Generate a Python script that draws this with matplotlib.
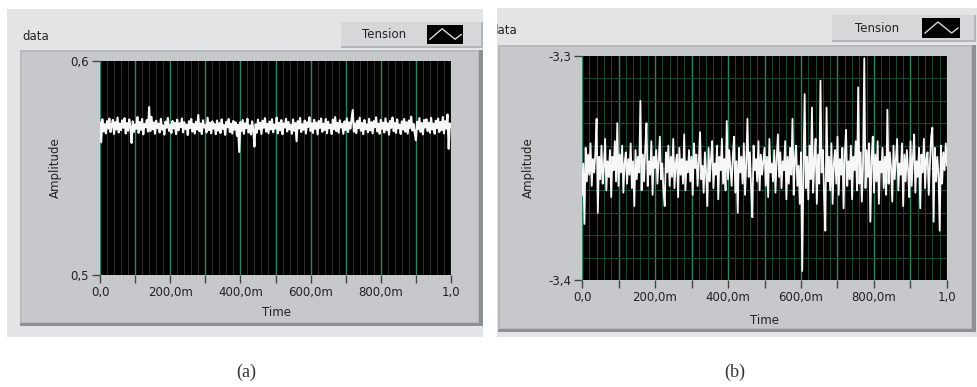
#%% bibliotecas
import numpy as np
import matplotlib.pyplot as plt
from matplotlib.patches import Rectangle
from matplotlib.lines import Line2D

#%% dados lidos dos dois graficos
tensao_a = [
    0.5712, 0.5620, 0.5728, 0.5671, 0.5705, 0.5662, 0.5719, 0.5684, 0.5731, 0.5668,
    0.5701, 0.5725, 0.5659, 0.5714, 0.5680, 0.5736, 0.5666, 0.5708, 0.5677, 0.5722,
    0.5688, 0.5733, 0.5661, 0.5710, 0.5674, 0.5727, 0.5692, 0.5617, 0.5718, 0.5669,
    0.5704, 0.5683, 0.5738, 0.5664, 0.5715, 0.5678, 0.5729, 0.5657, 0.5706, 0.5690,
    0.5724, 0.5670, 0.5785, 0.5672, 0.5739, 0.5681, 0.5713, 0.5660, 0.5721, 0.5686,
    0.5707, 0.5666, 0.5730, 0.5679, 0.5699, 0.5656, 0.5717, 0.5688, 0.5734, 0.5673,
    0.5702, 0.5663, 0.5720, 0.5685, 0.5711, 0.5658, 0.5726, 0.5676, 0.5709, 0.5691,
    0.5731, 0.5667, 0.5714, 0.5682, 0.5703, 0.5654, 0.5719, 0.5687, 0.5729, 0.5670,
    0.5706, 0.5661, 0.5716, 0.5680, 0.5748, 0.5672, 0.5708, 0.5659, 0.5723, 0.5689,
    0.5700, 0.5666, 0.5735, 0.5677, 0.5712, 0.5662, 0.5718, 0.5684, 0.5705, 0.5658,
    0.5722, 0.5675, 0.5710, 0.5664, 0.5727, 0.5683, 0.5701, 0.5655, 0.5716, 0.5690,
    0.5729, 0.5668, 0.5707, 0.5661, 0.5720, 0.5679, 0.5713, 0.5650, 0.5702, 0.5575,
    0.5715, 0.5673, 0.5724, 0.5660, 0.5709, 0.5686, 0.5730, 0.5666, 0.5699, 0.5657,
    0.5718, 0.5678, 0.5600, 0.5704, 0.5665, 0.5726, 0.5682, 0.5711, 0.5659, 0.5721,
    0.5688, 0.5733, 0.5670, 0.5706, 0.5663, 0.5717, 0.5680, 0.5728, 0.5667, 0.5703,
    0.5684, 0.5736, 0.5662, 0.5712, 0.5676, 0.5724, 0.5658, 0.5708, 0.5689, 0.5730,
    0.5671, 0.5715, 0.5681, 0.5701, 0.5660, 0.5727, 0.5674, 0.5710, 0.5625, 0.5719,
    0.5685, 0.5734, 0.5668, 0.5705, 0.5679, 0.5722, 0.5661, 0.5714, 0.5692, 0.5737,
    0.5673, 0.5709, 0.5664, 0.5725, 0.5683, 0.5712, 0.5657, 0.5720, 0.5687, 0.5731,
    0.5669, 0.5707, 0.5678, 0.5729, 0.5662, 0.5716, 0.5686, 0.5703, 0.5659, 0.5726,
    0.5681, 0.5738, 0.5672, 0.5711, 0.5665, 0.5723, 0.5689, 0.5706, 0.5660, 0.5718,
    0.5677, 0.5732, 0.5668, 0.5713, 0.5684, 0.5727, 0.5771, 0.5670, 0.5708, 0.5663,
    0.5721, 0.5686, 0.5735, 0.5674, 0.5710, 0.5658, 0.5724, 0.5681, 0.5704, 0.5667,
    0.5730, 0.5676, 0.5714, 0.5662, 0.5719, 0.5690, 0.5737, 0.5671, 0.5707, 0.5660,
    0.5725, 0.5683, 0.5712, 0.5666, 0.5732, 0.5678, 0.5709, 0.5656, 0.5720, 0.5688,
    0.5736, 0.5672, 0.5711, 0.5664, 0.5727, 0.5685, 0.5703, 0.5659, 0.5718, 0.5680,
    0.5729, 0.5670, 0.5714, 0.5661, 0.5722, 0.5687, 0.5740, 0.5675, 0.5706, 0.5663,
    0.5630, 0.5716, 0.5682, 0.5733, 0.5669, 0.5710, 0.5657, 0.5724, 0.5689, 0.5728,
    0.5673, 0.5712, 0.5665, 0.5735, 0.5680, 0.5707, 0.5660, 0.5721, 0.5686, 0.5731,
    0.5668, 0.5715, 0.5677, 0.5738, 0.5662, 0.5719, 0.5684, 0.5750, 0.5590, 0.5708,
    0.5695,
]
tensao_b = [
    -3.362, -3.348, -3.375, -3.341, -3.356, -3.344, -3.353, -3.339, -3.358, -3.346,
    -3.352, -3.343, -3.328, -3.370, -3.345, -3.355, -3.340, -3.357, -3.349, -3.337,
    -3.360, -3.347, -3.354, -3.342, -3.363, -3.345, -3.351, -3.338, -3.356, -3.330,
    -3.358, -3.344, -3.352, -3.340, -3.361, -3.348, -3.343, -3.357, -3.346, -3.353,
    -3.339, -3.359, -3.347, -3.367, -3.342, -3.355, -3.345, -3.352, -3.320, -3.360,
    -3.344, -3.356, -3.341, -3.330, -3.358, -3.347, -3.353, -3.338, -3.362, -3.345,
    -3.350, -3.342, -3.357, -3.346, -3.336, -3.355, -3.348, -3.361, -3.367, -3.343,
    -3.352, -3.340, -3.358, -3.345, -3.354, -3.337, -3.359, -3.348, -3.344, -3.363,
    -3.341, -3.353, -3.346, -3.357, -3.335, -3.360, -3.347, -3.352, -3.342, -3.356,
    -3.345, -3.362, -3.339, -3.350, -3.344, -3.358, -3.347, -3.334, -3.355, -3.349,
    -3.361, -3.343, -3.352, -3.367, -3.341, -3.356, -3.346, -3.338, -3.359, -3.348,
    -3.353, -3.340, -3.364, -3.345, -3.351, -3.337, -3.357, -3.346, -3.360, -3.329,
    -3.355, -3.342, -3.350, -3.358, -3.344, -3.336, -3.361, -3.347, -3.370, -3.341,
    -3.352, -3.345, -3.357, -3.339, -3.362, -3.348, -3.328, -3.354, -3.343, -3.359,
    -3.372, -3.340, -3.351, -3.346, -3.356, -3.338, -3.360, -3.344, -3.353, -3.347,
    -3.341, -3.358, -3.345, -3.363, -3.337, -3.352, -3.348, -3.356, -3.342, -3.361,
    -3.346, -3.335, -3.354, -3.343, -3.359, -3.347, -3.351, -3.338, -3.364, -3.345,
    -3.357, -3.341, -3.353, -3.328, -3.362, -3.346, -3.340, -3.358, -3.349, -3.366,
    -3.343, -3.396, -3.352, -3.317, -3.359, -3.345, -3.364, -3.340, -3.355, -3.323,
    -3.361, -3.347, -3.337, -3.366, -3.344, -3.357, -3.311, -3.352, -3.342, -3.363,
    -3.378, -3.323, -3.356, -3.345, -3.360, -3.339, -3.366, -3.348, -3.342, -3.357,
    -3.336, -3.362, -3.346, -3.353, -3.341, -3.368, -3.344, -3.333, -3.358, -3.347,
    -3.355, -3.340, -3.364, -3.345, -3.351, -3.338, -3.360, -3.314, -3.357, -3.343,
    -3.365, -3.348, -3.301, -3.359, -3.342, -3.354, -3.339, -3.374, -3.346, -3.336,
    -3.361, -3.344, -3.356, -3.338, -3.366, -3.347, -3.352, -3.341, -3.359, -3.345,
    -3.362, -3.324, -3.357, -3.343, -3.350, -3.365, -3.340, -3.355, -3.346, -3.337,
    -3.360, -3.348, -3.353, -3.339, -3.367, -3.344, -3.356, -3.342, -3.351, -3.363,
    -3.338, -3.358, -3.345, -3.335, -3.361, -3.347, -3.354, -3.341, -3.368, -3.344,
    -3.352, -3.337, -3.359, -3.346, -3.343, -3.362, -3.348, -3.336, -3.332, -3.374,
    -3.341, -3.356, -3.345, -3.353, -3.378, -3.340, -3.357, -3.343, -3.351, -3.339,
    -3.349,
]
xticks = [0.0, 0.1, 0.2, 0.3, 0.4, 0.5, 0.6, 0.7, 0.8, 0.9, 1.0]
xlabels = ["0,0", "", "200,0m", "", "400,0m", "", "600,0m", "", "800,0m", "", "1,0"]
ylim_a = [0.5, 0.6]
ylabels_a = ["0,5", "0,6"]
ylim_b = [-3.4, -3.3]
ylabels_b = ["-3,4", "-3,3"]

#%% figura em pixels
W, H = 977, 387
fig = plt.figure(figsize=(W / 100, H / 100), dpi=100)
fig.patch.set_facecolor("white")


def caixa(x0, y0, x1, y1, cor, z=-5):
    # retangulo em pixels (origem no canto superior esquerdo)
    fig.add_artist(Rectangle((x0 / W, 1 - y1 / H), (x1 - x0) / W, (y1 - y0) / H,
                             transform=fig.transFigure, facecolor=cor,
                             edgecolor="none", zorder=z))


def texto(x, y, s, **kw):
    kw.setdefault("fontsize", 8.5)
    kw.setdefault("color", "#222222")
    return fig.text(x / W, 1 - y / H, s, **kw)


def legenda(x0, y0, x1, y1, xi0, xi1):
    caixa(x0, y0, x1, y1, "#b4b5b8", -4)
    caixa(x0, y0, x1 - 2, y1 - 2, "#d6d7d9", -3)
    texto((x0 + xi0) / 2, (y0 + y1) / 2, "Tension", ha="center", va="center")
    caixa(xi0, y0 + 3, xi1, y1 - 4, "black", -2)
    w, h = xi1 - xi0, (y1 - 4) - (y0 + 3)
    px = [xi0 + 0.08 * w, xi0 + 0.42 * w, xi0 + 0.78 * w, xi0 + 0.95 * w]
    py = [y1 - 4 - 0.25 * h, y1 - 4 - 0.8 * h, y1 - 4 - 0.25 * h, y1 - 4 - 0.5 * h]
    fig.add_artist(Line2D([p / W for p in px], [1 - p / H for p in py],
                          transform=fig.transFigure, color="#d8d8d8", lw=1, zorder=-1))


def moldura(x0, y0, x1, y1, fx0, fy0, fx1, fy1):
    caixa(x0, y0, x1, y1, "#e3e4e6", -9)
    caixa(fx0, fy0, fx1, fy1, "#8f9093", -8)
    caixa(fx0, fy0, fx1 - 4, fy1 - 3, "#b8b9bc", -7)
    caixa(fx0 + 2, fy0 + 2, fx1 - 5, fy1 - 4, "#c7c8cb", -6)


def painel(pos, y, ylim, ylabels, grade_h, cor_minor, lw):
    ax = fig.add_axes([pos[0] / W, 1 - pos[3] / H, (pos[2] - pos[0]) / W, (pos[3] - pos[1]) / H])
    ax.set_facecolor("black")
    t = np.linspace(0, 1, len(y))
    ax.plot(t, y, color="#f7f7f7", lw=lw, zorder=3)
    ax.set_xlim(0, 1)
    ax.set_ylim(ylim)
    ax.set_xticks(xticks)
    ax.set_xticklabels(xlabels)
    ax.set_yticks(ylim)
    ax.set_yticklabels(ylabels)
    ax.set_xticks(np.arange(0, 1.0001, 0.02), minor=True)
    ax.grid(which="major", axis="x", color="#2c855e", lw=1)
    if grade_h:
        ax.set_yticks(np.linspace(ylim[0], ylim[1], 11), minor=True)
        ax.grid(which="minor", axis="both", color=cor_minor, lw=0.7)
    else:
        ax.grid(which="minor", axis="x", color=cor_minor, lw=0.7)
    ax.set_axisbelow(True)
    ax.tick_params(which="minor", length=0)
    ax.tick_params(which="major", direction="out", length=6, width=1, color="#444444",
                   labelsize=8.5, labelcolor="#222222", pad=2)
    for s in ax.spines.values():
        s.set_visible(False)
    return ax


#%% painel (a)
moldura(7, 9, 483, 337, 20, 50, 483, 326)
legenda(341, 22, 483, 48, 427, 463)
texto(22, 37, "data", ha="left", va="center")
painel((100, 61, 451, 275), tensao_a, ylim_a, ylabels_a, False, "#2e2e2e", 1.5)
texto(276, 313, "Time", ha="center", va="center")
texto(55, 168, "Amplitude", ha="center", va="center", rotation=90)

#%% painel (b)
moldura(497, 8, 977, 337, 498, 45, 976, 332)
legenda(832, 15, 976, 42, 922, 960)
texto(490, 31, "data", ha="left", va="center")
painel((582, 56, 947, 280), tensao_b, ylim_b, ylabels_b, True, "#1b4a35", 1.3)
texto(765, 321, "Time", ha="center", va="center")
texto(528, 168, "Amplitude", ha="center", va="center", rotation=90)

# corta o "d" do segundo painel
caixa(483, 0, 497, 345, "white", 10)

#%% legendas (a) e (b)
texto(246, 372, "(a)", ha="center", va="center", fontsize=13, family="Liberation Serif", color="#333333")
texto(735, 372, "(b)", ha="center", va="center", fontsize=13, family="Liberation Serif", color="#333333")

fig.savefig("out.png", dpi=100)
